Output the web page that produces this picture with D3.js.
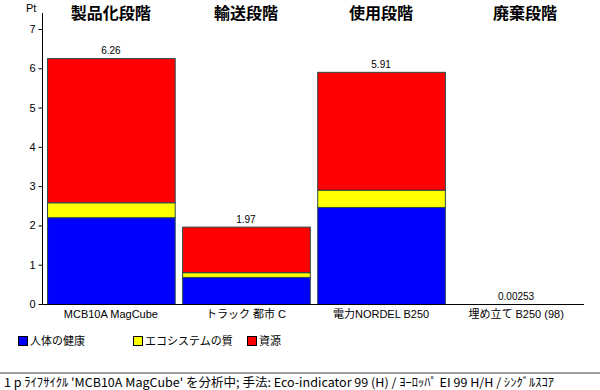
<!DOCTYPE html>
<html>
<head>
<meta charset="utf-8">
<script src="https://cdn.jsdelivr.net/npm/d3@7"></script>
<style>
  body { margin: 0; background: #fff; }
  text { font-family: "Liberation Sans", "Noto Sans CJK JP", sans-serif; fill: #000; }
  .title { font-family: "Noto Sans CJK JP", sans-serif; font-weight: bold; font-size: 16px; }
  .jp { font-family: "Noto Sans CJK JP", sans-serif; }
</style>
</head>
<body>
<svg id="chart" width="600" height="390"></svg>
<script>
// Data.
const phases     = [ '製品化段階', '輸送段階', '使用段階', '廃棄段階' ];
const categories = [ 'MCB10A MagCube', 'トラック 都市 C', '電力NORDEL B250', '埋め立て B250 (98)' ];
const totals     = [ '6.26', '1.97', '5.91', '0.00253' ];
const seriesNames  = [ '人体の健康', 'エコシステムの質', '資源' ];
const seriesColors = [ '#0000ff', '#ffff00', '#ff0000' ];
const health     = [ 2.21, 0.69, 2.47, 0.0010 ];
const ecosystem  = [ 0.38, 0.12, 0.44, 0.0002 ];
const resources  = [ 3.67, 1.16, 3.00, 0.00133 ];
const yTicks     = [ 0, 1, 2, 3, 4, 5, 6, 7 ];
const footer     = "1 p ﾗｲﾌｻｲｸﾙ 'MCB10A MagCube' を分析中; 手法: Eco-indicator 99 (H) / ﾖｰﾛｯﾊﾟ EI 99 H/H / ｼﾝｸﾞﾙｽｺｱ";

const svg = d3.select( '#chart' );

// Scales.
const x = d3.scaleBand( )
  .domain( categories )
  .range( [ 43, 584 ] )
  .paddingInner( 0.055 )
  .paddingOuter( 0.03 );
const y = d3.scaleLinear( ).domain( [ 0, 7 ] ).range( [ 304, 29 ] );

// Stacked rows.
const rows = categories.map( ( c, i ) => ( { cat: c, h: health[ i ], e: ecosystem[ i ], r: resources[ i ] } ) );
const stack = d3.stack( ).keys( [ 'h', 'e', 'r' ] )( rows );

// Bars.
svg.append( 'g' ).selectAll( 'g' )
  .data( stack ).enter( ).append( 'g' )
    .attr( 'fill', ( d, i ) => seriesColors[ i ] )
  .selectAll( 'rect' )
  .data( d => d ).enter( ).append( 'rect' )
    .attr( 'x'     , d => x( d.data.cat ) + 0.5 )
    .attr( 'y'     , d => y( d[ 1 ] ) + 0.5 )
    .attr( 'width' , x.bandwidth( ) )
    .attr( 'height', d => Math.max( 0, y( d[ 0 ] ) - y( d[ 1 ] ) ) )
    .attr( 'stroke', '#2a4a4a' )
    .attr( 'stroke-width', d => d.data.cat === categories[ 3 ] ? 0 : 1 );

// Value labels on top.
svg.append( 'g' ).selectAll( 'text' )
  .data( rows ).enter( ).append( 'text' )
    .attr( 'x', d => x( d.cat ) + x.bandwidth( ) / 2 )
    .attr( 'y', ( d, i ) => y( d.h + d.e + d.r ) - 4 )
    .attr( 'text-anchor', 'middle' )
    .style( 'font-size', '10px' )
    .text( ( d, i ) => totals[ i ] );

// Y axis.
const yAxis = d3.axisLeft( y ).tickValues( yTicks ).tickFormat( d3.format( 'd' ) )
  .tickSize( 4 ).tickSizeOuter( 0 ).tickPadding( 3 );
const yg = svg.append( 'g' ).attr( 'transform', 'translate( 42.5, 0 )' ).call( yAxis );
yg.select( '.domain' ).remove( );
yg.selectAll( 'text' ).style( 'font-size', '11px' ).style( 'font-family', '"Liberation Sans", sans-serif' );
yg.append( 'line' ).attr( 'y1', 13 ).attr( 'y2', y( 0 ) ).attr( 'stroke', '#000' );
svg.append( 'text' ).attr( 'x', 26 ).attr( 'y', 12 ).style( 'font-size', '11px' ).text( 'Pt' );

// X axis.
const xAxis = d3.axisBottom( x ).tickSize( 0 ).tickPadding( 6 );
const xg = svg.append( 'g' ).attr( 'transform', `translate( 0, ${y( 0 ) + 0.5} )` ).call( xAxis );
xg.select( '.domain' ).attr( 'd', `M42.5,0H584` );
xg.selectAll( 'text' ).style( 'font-size', '11px' );

// Phase titles.
svg.append( 'g' ).selectAll( 'text' )
  .data( phases ).enter( ).append( 'text' )
    .attr( 'class', 'title' )
    .attr( 'x', ( d, i ) => x( categories[ i ] ) + x.bandwidth( ) / 2 + ( i === 3 ? 9 : 0 ) )
    .attr( 'y', 19 )
    .attr( 'text-anchor', 'middle' )
    .text( d => d );

// Legend.
const legend = svg.append( 'g' ).selectAll( 'g' )
  .data( seriesNames ).enter( ).append( 'g' )
    .attr( 'transform', ( d, i ) => `translate( ${[ 18, 133, 247 ][ i ]}, 336 )` );
legend.append( 'rect' )
  .attr( 'x', 0.5 ).attr( 'y', 0.5 ).attr( 'width', 9 ).attr( 'height', 9 )
  .attr( 'fill', ( d, i ) => seriesColors[ i ] ).attr( 'stroke', '#000' );
legend.append( 'text' )
  .attr( 'class', 'jp' )
  .attr( 'x', 12 ).attr( 'y', 9 )
  .style( 'font-size', '11px' )
  .text( d => d );

// Footer.
svg.append( 'rect' ).attr( 'x', 0 ).attr( 'y', 372 ).attr( 'width', 600 ).attr( 'height', 2 ).attr( 'fill', '#a0a0a0' );
svg.append( 'text' )
  .attr( 'class', 'jp' )
  .attr( 'x', 4 ).attr( 'y', 387 )
  .attr( 'textLength', 550 )
  .attr( 'lengthAdjust', 'spacingAndGlyphs' )
  .style( 'font-size', '12px' )
  .text( footer );
</script>
</body>
</html>
